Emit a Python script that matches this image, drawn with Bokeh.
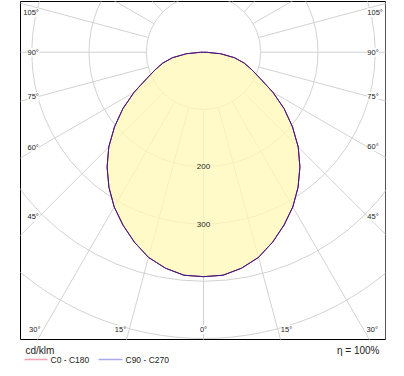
import numpy as np
from bokeh.plotting import figure
from bokeh.models import Range1d, Span
from bokeh.layouts import column
from bokeh.embed import file_html
from bokeh.resources import INLINE
from bokeh.core.properties import value

# ---------------- data ----------------
gamma_deg = [0, 5, 10, 15, 20, 25, 30, 35, 40, 45, 50, 55, 60, 65, 70, 75, 80, 85, 90,
             95, 100, 105, 110, 115, 120, 125, 130, 135, 140, 145, 150, 155, 160, 165, 170, 175, 180]
c0_c180 = [392, 391, 383, 371, 353, 333, 312, 288, 262, 234, 203, 172, 140, 110, 90, 74, 55, 30, 5,
           0, 0, 0, 0, 0, 0, 0, 0, 0, 0, 0, 0, 0, 0, 0, 0, 0, 0]
c90_c270 = [392, 391, 383, 371, 353, 333, 312, 288, 262, 234, 203, 172, 140, 110, 90, 74, 55, 30, 5,
            0, 0, 0, 0, 0, 0, 0, 0, 0, 0, 0, 0, 0, 0, 0, 0, 0, 0]
ring_values = [100, 200, 300, 400, 500, 600, 700, 800, 900]
ring_label_values = [200, 300]
ray_angles = [0, 15, 30, 45, 60, 75, 90, 105, 120, 135, 150, 165,
              180, 195, 210, 225, 240, 255, 270, 285, 300, 315, 330, 345]
side_label_angles = [45, 60, 75, 90, 105]
bottom_label_angles = [0, 15, 30]
unit_label = "cd/klm"
efficiency_label = "η = 100%"
legend_labels = ["C0 - C180", "C90 - C270"]

# ---------------- geometry / style ----------------
PX_PER_UNIT = 0.5725
FRAME_W, FRAME_H = 365, 338
CX_PX, CY_PX = 183.0, 50.75
u = 1.0 / PX_PER_UNIT
X0, X1 = -CX_PX * u, (FRAME_W - CX_PX) * u
Y0, Y1 = -(FRAME_H - CY_PX) * u, CY_PX * u
GRID = "#d2d2d2"
FONT = value("Liberation Sans")
TXT = "#222222"

p = figure(width=404, height=340, x_range=Range1d(X0, X1), y_range=Range1d(Y0, Y1),
           output_backend="svg", toolbar_location=None,
           x_axis_location=None, y_axis_location=None,
           min_border_left=20, min_border_right=19, min_border_top=1, min_border_bottom=1,
           background_fill_color="white", border_fill_color="white",
           outline_line_color="black", outline_line_width=1)
p.grid.visible = False

# rings
p.circle(x=[0] * len(ring_values), y=[0] * len(ring_values), radius=ring_values,
         fill_color=None, line_color=GRID, line_width=1)
# rays (starting at the 100 ring)
a = np.radians(ray_angles)
r_in, r_out = ring_values[0], 2000
p.segment(x0=r_in * np.sin(a), y0=-r_in * np.cos(a), x1=r_out * np.sin(a), y1=-r_out * np.cos(a),
          line_color=GRID, line_width=1)


def outline(vals):
    g = np.radians(gamma_deg)
    I = np.array(vals, dtype=float)
    xr = I * np.sin(g)
    yr = -I * np.cos(g)
    return np.concatenate([xr, -xr[::-1]]), np.concatenate([yr, yr[::-1]])


xs0, ys0 = outline(c0_c180)
xs9, ys9 = outline(c90_c270)
p.patch(xs9, ys9, fill_color="#fff8b4", fill_alpha=0.75, line_color=None)
p.line(xs0, ys0, line_color="#a0104a", line_width=1, line_join="round")
p.line(xs9, ys9, line_color="#3d1a8a", line_width=1, line_join="round")

# ring labels
p.text(x=[0] * len(ring_label_values), y=[-v for v in ring_label_values],
       text=[str(v) for v in ring_label_values], text_font=FONT, text_font_size="8px",
       text_align="center", text_baseline="middle", text_color=TXT,
       background_fill_color="#fffaca")

# side angle labels
ga = np.radians(side_label_angles)
top_clamp = Y1 - 11 * u
lx = 0.9 * X0
rx = 0.9 * X1
ly = np.minimum(-abs(lx) * np.cos(ga) / np.sin(ga), top_clamp)
ry = np.minimum(-abs(rx) * np.cos(ga) / np.sin(ga), top_clamp)
lbl = [f"{g}°" for g in side_label_angles]
p.text(x=[lx] * len(ga), y=ly, text=lbl, text_font=FONT, text_font_size="7.5px",
       text_align="right", text_baseline="middle", text_color=TXT, background_fill_color="white")
p.text(x=[rx] * len(ga), y=ry, text=lbl, text_font=FONT, text_font_size="7.5px",
       text_align="left", text_baseline="middle", text_color=TXT, background_fill_color="white")

# bottom angle labels
by = Y0 + 10 * u
gb = np.radians(bottom_label_angles)
bx = abs(by) * np.tan(gb)
for sgn, align in ((-1, "right"), (1, "left")):
    for g, x in zip(bottom_label_angles, bx):
        if g == 0:
            if sgn == 1:
                continue
            xx, al = 0.0, "center"
        else:
            xx, al = sgn * (x + 3 * u), align
        p.text(x=[xx], y=[by], text=[f"{g}°"], text_font=FONT, text_font_size="7.5px",
               text_align=al, text_baseline="middle", text_color=TXT, background_fill_color="white")

p.add_layout(Span(location=X1, dimension="height", line_color="#a8a8a8", line_width=1))

# ---------------- legend strip (frame aligned with the chart frame: page px 20..385) ----------------
q = figure(width=404, height=31, x_range=Range1d(20, 385), y_range=Range1d(371, 340),
           output_backend="svg", toolbar_location=None,
           x_axis_location=None, y_axis_location=None,
           min_border_left=20, min_border_right=19, min_border_top=0, min_border_bottom=0,
           outline_line_color=None, background_fill_color="white", border_fill_color="white")
q.grid.visible = False
q.text(x=[25], y=[349.5], text=[unit_label], text_font=FONT, text_font_size="10px",
       text_align="left", text_baseline="middle", text_color=TXT)
q.text(x=[379], y=[349.5], text=[efficiency_label], text_font=FONT, text_font_size="10px",
       text_align="right", text_baseline="middle", text_color=TXT)
q.segment(x0=[24, 98], y0=[359, 359], x1=[47, 122], y1=[359, 359],
          line_color=["#f4a3b4", "#a9a9ea"], line_width=1.5)
q.text(x=[50, 125], y=[359.5, 359.5], text=legend_labels, text_font=FONT, text_font_size="8.5px",
       text_align="left", text_baseline="middle", text_color=TXT)

layout = column(p, q, spacing=0)
open("out.html", "w").write(file_html(layout, INLINE))
